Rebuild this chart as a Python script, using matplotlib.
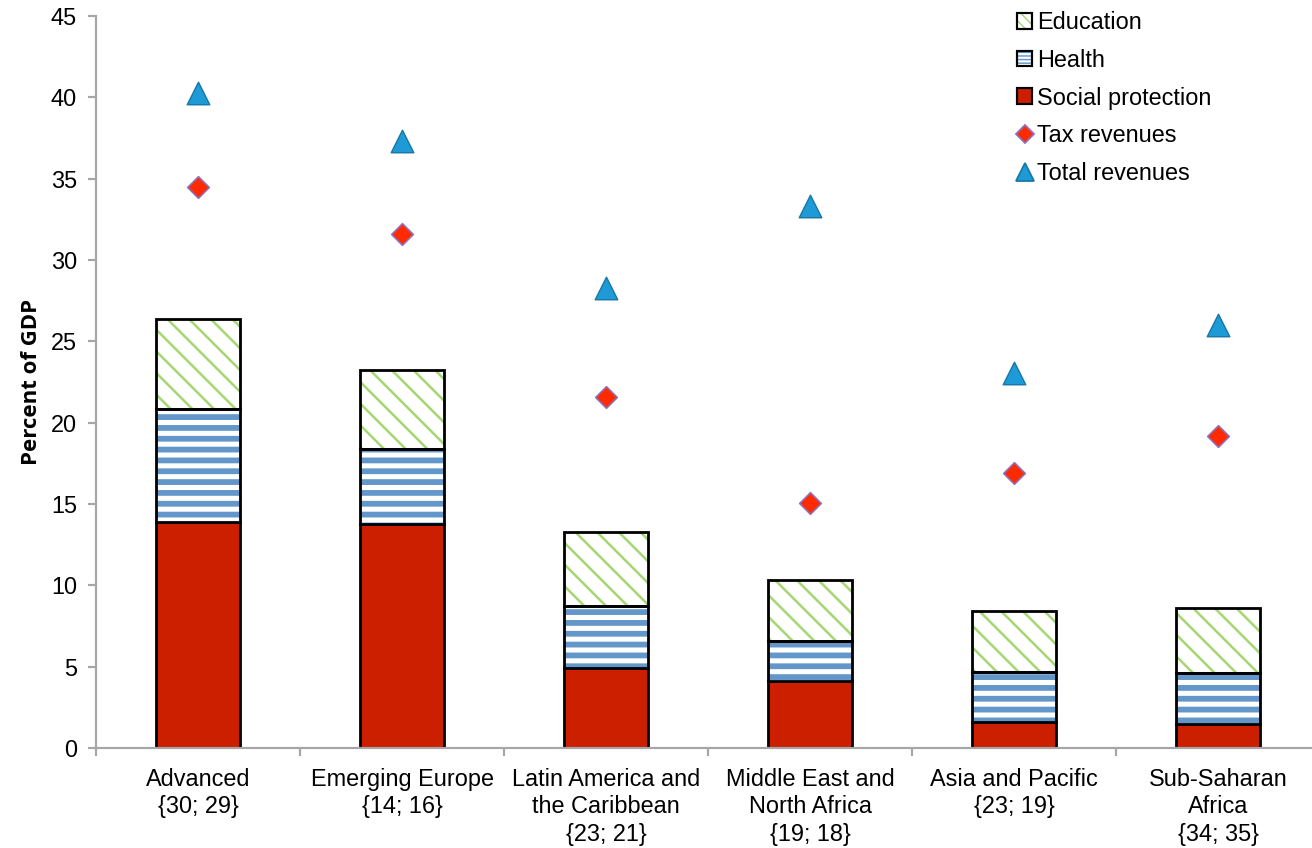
import matplotlib
matplotlib.use('Agg')
import matplotlib.pyplot as plt
from matplotlib import font_manager
from matplotlib.patches import Patch
from matplotlib.lines import Line2D
from matplotlib.legend_handler import HandlerTuple
import numpy as np

categories = ['Advanced\n{30; 29}', 'Emerging Europe\n{14; 16}',
              'Latin America and\nthe Caribbean\n{23; 21}',
              'Middle East and\nNorth Africa\n{19; 18}',
              'Asia and Pacific\n{23; 19}', 'Sub-Saharan\nAfrica\n{34; 35}']
social = [13.9, 13.8, 4.9, 4.1, 1.6, 1.5]
health = [6.95, 4.6, 3.8, 2.5, 3.1, 3.1]
education = [5.55, 4.85, 4.55, 3.75, 3.75, 4.0]
tax_rev = [34.5, 31.6, 21.6, 15.05, 16.9, 19.2]
total_rev = [40.3, 37.3, 28.3, 33.35, 23.05, 26.0]

plt.rcParams['font.family'] = ['Liberation Sans', 'DejaVu Sans']
installed = {f.name for f in font_manager.fontManager.ttflist}
ylab_font = 'Liberation Sans Narrow' if 'Liberation Sans Narrow' in installed else 'Open Sans'

RED = '#CC1F00'
BLUE = '#6497C9'
GREEN = '#A6D774'

# dpi 130 so the hatch spacing matches the reference stripes
DPI = 130
fig = plt.figure(figsize=(1312 / DPI, 848 / DPI), dpi=DPI)
ax = fig.add_axes([0.0732, 0.118, 0.933, 0.863])

x = np.arange(len(categories))
w = 0.41
social = np.array(social)
health = np.array(health)
education = np.array(education)
lw = 1.55

ax.bar(x, social, w, color=RED, edgecolor='black', linewidth=lw, zorder=2)

plt.rcParams['hatch.linewidth'] = 3.2
ax.bar(x, health, w, bottom=social, color='white', edgecolor=BLUE,
       linewidth=0, hatch='--', zorder=2)
ax.bar(x, health, w, bottom=social, fill=False, edgecolor='black', linewidth=lw, zorder=3)

plt.rcParams['hatch.linewidth'] = 1.4
ax.bar(x, education, w, bottom=social + health, color='white', edgecolor=GREEN,
       linewidth=0, hatch='\\\\', zorder=2)
ax.bar(x, education, w, bottom=social + health, fill=False, edgecolor='black',
       linewidth=lw, zorder=3)

ax.scatter(x, tax_rev, marker='D', s=72, color='#FF2A00', edgecolor='#8E6FB8',
           linewidth=0.9, zorder=4)
ax.scatter(x, total_rev, marker='^', s=155, color='#1E9BD7', edgecolor='#1878A8',
           linewidth=0.8, zorder=4)

ax.set_xlim(-0.5, 5.5)
ax.set_ylim(0, 45)
ax.set_yticks(range(0, 46, 5))
ax.set_xticks(x)
ax.set_xticklabels(categories, fontsize=13, linespacing=1.25)
ax.set_xticks(np.arange(-0.5, 6, 1), minor=True)
ax.tick_params(axis='x', which='major', length=0, pad=11)
ax.tick_params(axis='x', which='minor', length=4.6, width=1.2, color='#A6A6A6')
ax.tick_params(axis='y', length=4.6, width=1.2, color='#A6A6A6', labelsize=13, pad=6)
for s in ['top', 'right']:
    ax.spines[s].set_visible(False)
for s in ['left', 'bottom']:
    ax.spines[s].set_color('#A6A6A6')
    ax.spines[s].set_linewidth(1.2)
ax.set_ylabel('Percent of GDP', fontsize=12.3, fontweight='bold', labelpad=5,
              family=[ylab_font, 'DejaVu Sans'])

plt.rcParams['hatch.linewidth'] = 0.8
handles = [
    (Patch(facecolor='white', edgecolor=GREEN, hatch='\\\\\\\\', linewidth=0),
     Patch(fill=False, edgecolor='black', linewidth=1.2)),
    (Patch(facecolor='white', edgecolor=BLUE, hatch='------', linewidth=0),
     Patch(fill=False, edgecolor='black', linewidth=1.2)),
    Patch(facecolor=RED, edgecolor='black', linewidth=1.2),
    Line2D([], [], marker='D', color='none', markerfacecolor='#FF2A00',
           markeredgecolor='#8E6FB8', markersize=7),
    Line2D([], [], marker='^', color='none', markerfacecolor='#1E9BD7',
           markeredgecolor='#1878A8', markersize=9.5),
]
labels = ['Education', 'Health', 'Social protection', 'Tax revenues', 'Total revenues']
ax.legend(handles, labels, loc='upper left', bbox_to_anchor=(0.759, 1.012),
          bbox_transform=fig.transFigure, frameon=False, fontsize=13,
          handlelength=0.65, handleheight=0.65, handletextpad=0.2, labelspacing=0.63,
          handler_map={tuple: HandlerTuple(ndivide=1, pad=0)})

plt.savefig('out.png', dpi=DPI)
plt.close()
